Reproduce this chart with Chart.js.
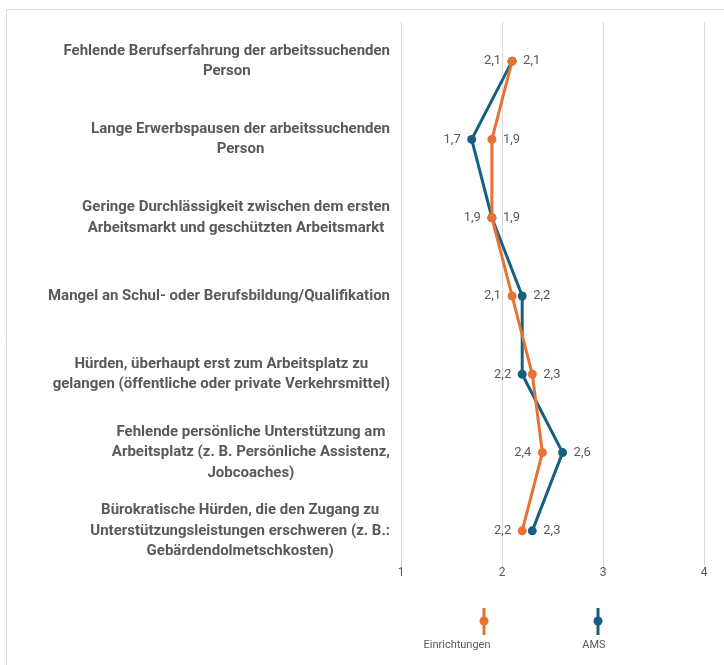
<!DOCTYPE html>
<html>
<head>
<meta charset="utf-8">
<script src="https://cdn.jsdelivr.net/npm/chart.js@4/dist/chart.umd.min.js"></script>
<style>
  html, body { margin: 0; padding: 0; background: #fff; }
  #wrap { width: 724px; height: 665px; }
</style>
</head>
<body>
<div id="wrap"><canvas id="grafica"></canvas></div>
<script>
// Kategorien (Zeilen wie im Original umbrochen)
const kategorien = [
  ["Fehlende Berufserfahrung der arbeitssuchenden", "Person"],
  ["Lange Erwerbspausen der arbeitssuchenden", "Person"],
  ["Geringe Durchlässigkeit zwischen dem ersten", "Arbeitsmarkt und geschützten Arbeitsmarkt"],
  ["Mangel an Schul- oder Berufsbildung/Qualifikation"],
  ["Hürden, überhaupt erst zum Arbeitsplatz zu", "gelangen (öffentliche oder private Verkehrsmittel)"],
  ["Fehlende persönliche Unterstützung am", "Arbeitsplatz (z. B. Persönliche Assistenz,", "Jobcoaches)"],
  ["Bürokratische Hürden, die den Zugang zu", "Unterstützungsleistungen erschweren (z. B.:", "Gebärdendolmetschkosten)"]
];
const einrichtungen = [2.1, 1.9, 1.9, 2.1, 2.3, 2.4, 2.2];
const ams = [2.1, 1.7, 1.9, 2.2, 2.2, 2.6, 2.3];
const skalaTicks = [1, 2, 3, 4];

const ORANGE = "#E97132";
const BLAU = "#156082";
const GRAU = "#595959";
const FONT = "Roboto, 'Liberation Sans', sans-serif";

const fmt = (v) => v.toFixed(1).replace(".", ",");

// Rahmen, Achsen- und Datenbeschriftung, Legende
const zeichner = {
  id: "zeichner",
  beforeDraw(chart) {
    const c = chart.ctx;
    c.save();
    c.strokeStyle = "#d9d9d9";
    c.lineWidth = 1;
    c.beginPath();
    c.moveTo(6.5, 665);
    c.lineTo(6.5, 9.5);
    c.lineTo(724, 9.5);
    c.stroke();
    c.restore();
  },
  afterDraw(chart) {
    const c = chart.ctx;
    const y = chart.scales.y;
    const x = chart.scales.x;
    c.save();
    c.fillStyle = GRAU;
    c.textBaseline = "middle";
    // Werteachse
    c.font = "12px " + FONT;
    c.textAlign = "center";
    skalaTicks.forEach((t) => {
      c.fillText(String(t), x.getPixelForValue(t), chart.chartArea.bottom + 3);
    });
    // Kategorien
    c.font = "bold 15px " + FONT;
    kategorien.forEach((zeilen, i) => {
      const cy = y.getPixelForValue(i);
      const w = Math.max(...zeilen.map((z) => c.measureText(z).width));
      const cx = 390 - w / 2;
      const lh = 20.5;
      zeilen.forEach((z, k) => {
        c.fillText(z, cx, cy + (k - (zeilen.length - 1) / 2) * lh);
      });
    });
    // Datenbeschriftungen
    c.font = "13px " + FONT;
    const reihen = [einrichtungen, ams];
    chart.data.datasets.forEach((ds, d) => {
      const meta = chart.getDatasetMeta(d);
      const andere = reihen[1 - d];
      meta.data.forEach((pt, i) => {
        const v = ds.data[i];
        let links = v < andere[i];
        if (v === andere[i]) links = d === 1;
        c.textAlign = links ? "right" : "left";
        c.fillText(fmt(v), pt.x + (links ? -11 : 11), pt.y);
      });
    });
    // Legende
    const eintraege = [
      { text: "Einrichtungen", farbe: ORANGE, mx: 484, tx: 457 },
      { text: "AMS", farbe: BLAU, mx: 598, tx: 594 }
    ];
    c.font = "11px " + FONT;
    c.textAlign = "center";
    eintraege.forEach((e) => {
      c.strokeStyle = e.farbe;
      c.lineWidth = 3;
      c.beginPath();
      c.moveTo(e.mx, 608);
      c.lineTo(e.mx, 635);
      c.stroke();
      c.fillStyle = e.farbe;
      c.beginPath();
      c.arc(e.mx, 621, 4.5, 0, Math.PI * 2);
      c.fill();
      c.fillStyle = GRAU;
      c.fillText(e.text, e.tx, 645);
    });
    c.restore();
  }
};

new Chart(document.getElementById("grafica"), {
  type: "line",
  data: {
    labels: kategorien.map((z) => z.join(" ")),
    datasets: [
      {
        label: "Einrichtungen",
        data: einrichtungen,
        borderColor: ORANGE,
        backgroundColor: ORANGE,
        borderWidth: 3,
        pointRadius: 4.5,
        pointBorderWidth: 0
      },
      {
        label: "AMS",
        data: ams,
        borderColor: BLAU,
        backgroundColor: BLAU,
        borderWidth: 3,
        pointRadius: 4.5,
        pointBorderWidth: 0
      }
    ]
  },
  options: {
    indexAxis: "y",
    responsive: true,
    maintainAspectRatio: false,
    animation: false,
    layout: { padding: { top: 22, right: 20, bottom: 75, left: 0 } },
    plugins: {
      legend: { display: false },
      tooltip: { enabled: false }
    },
    scales: {
      y: {
        type: "category",
        offset: true,
        grid: { display: false },
        border: { display: false },
        ticks: { display: false },
        afterFit(s) { s.width = 401; }
      },
      x: {
        type: "linear",
        min: skalaTicks[0],
        max: skalaTicks[skalaTicks.length - 1],
        grid: { color: "#d9d9d9", drawTicks: false },
        border: { display: false },
        ticks: { stepSize: 1, display: false },
        afterFit(s) { s.height = 20; }
      }
    }
  },
  plugins: [zeichner]
});
</script>
</body>
</html>
